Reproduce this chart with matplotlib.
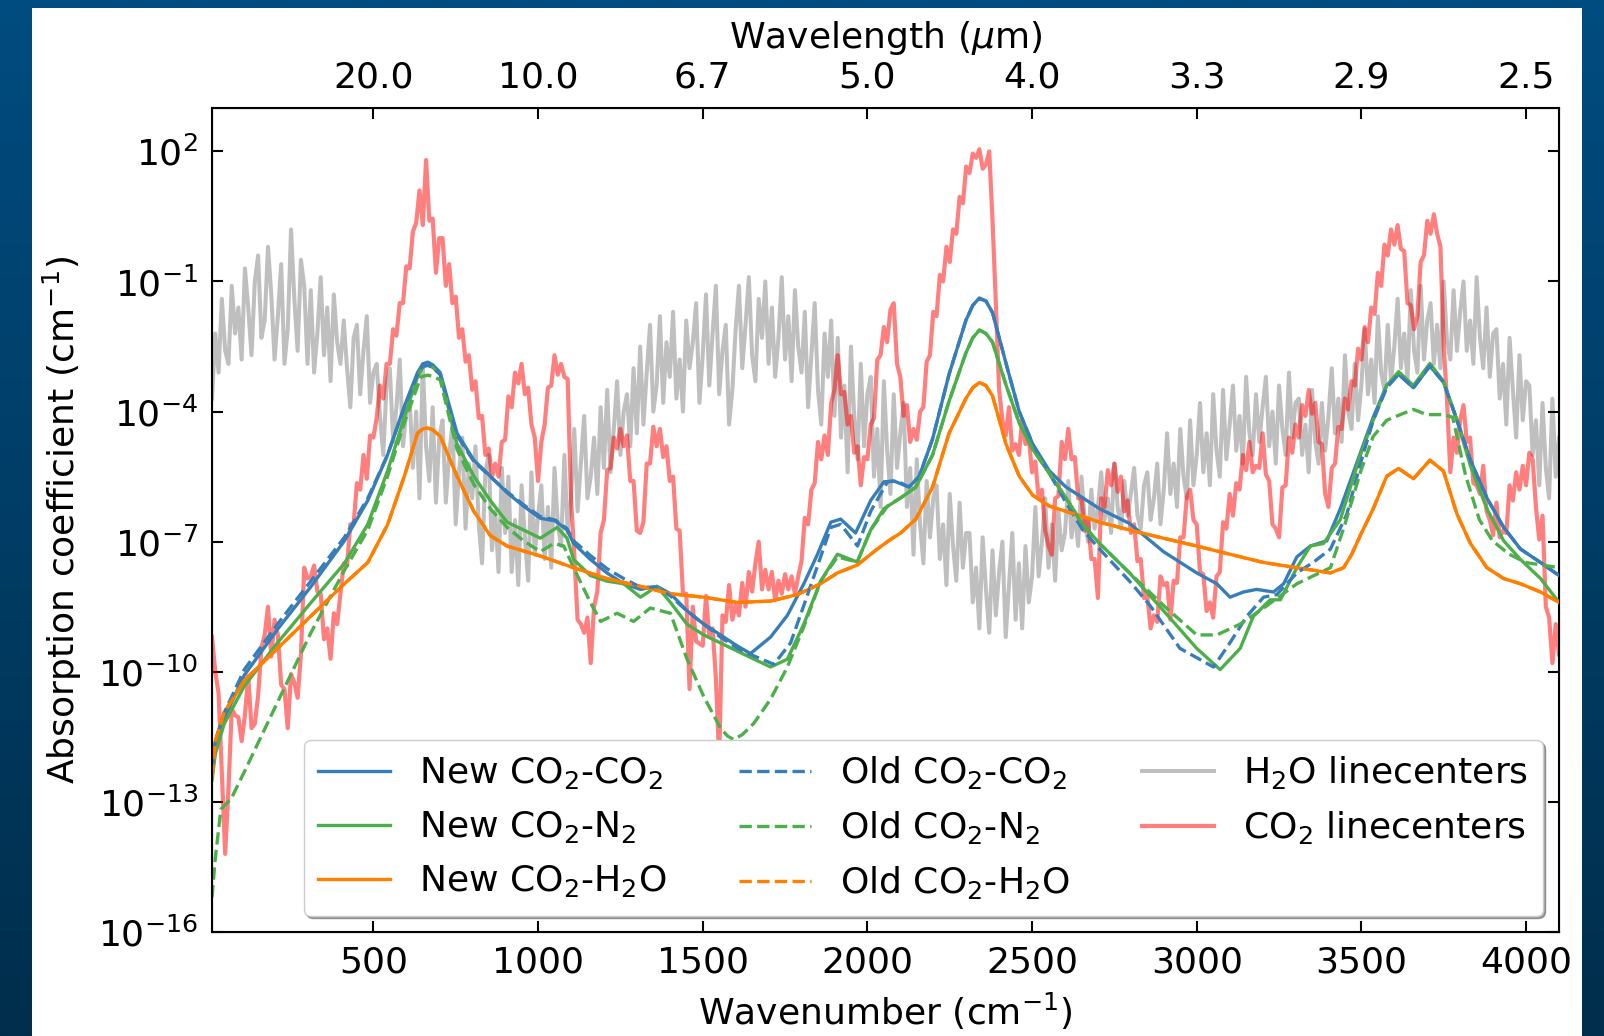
import numpy as np
import matplotlib
matplotlib.use("Agg")
import matplotlib.pyplot as plt
from matplotlib.patches import Rectangle
from matplotlib.ticker import NullLocator

# ---------------- data (log10 of absorption coefficient in cm^-1) ----------------
new_cc_x = [10, 20, 47, 108, 209, 311, 412, 483, 543, 594, 634, 650, 665, 680, 703, 754, 805, 855, 906, 956,
            1007, 1052, 1088, 1108, 1159, 1209, 1260, 1311, 1361, 1402, 1452, 1503, 1554, 1604, 1645, 1706,
            1757, 1807, 1848, 1889, 1919, 1964, 2010, 2050, 2080, 2126, 2157, 2198, 2248, 2299, 2320, 2340,
            2360, 2380, 2421, 2461, 2502, 2553, 2603, 2654, 2705, 2796, 2899, 3000, 3061, 3101, 3142, 3182,
            3233, 3264, 3304, 3345, 3395, 3436, 3497, 3536, 3577, 3613, 3658, 3708, 3749, 3790, 3831, 3881,
            3932, 3983, 4044, 4100]
new_cc_log = [-12.4, -11.8, -11.07, -10.08, -9.02, -8.03, -6.98, -6.05, -5.0, -3.88, -3.1, -2.9, -2.86, -2.92,
              -3.1, -4.5, -5.12, -5.49, -5.87, -6.18, -6.46, -6.52, -6.73, -7.04, -7.41, -7.72, -7.97, -8.1,
              -8.03, -8.2, -8.59, -8.9, -9.15, -9.4, -9.58, -9.2, -8.7, -7.97, -7.3, -6.55, -6.48, -6.8, -6.05,
              -5.62, -5.6, -5.74, -5.5, -4.63, -3.14, -1.9, -1.55, -1.38, -1.45, -1.72, -2.89, -4.0, -4.75,
              -5.37, -5.74, -5.99, -6.24, -6.58, -7.23, -7.72, -7.97, -8.28, -8.16, -8.1, -8.16, -7.97, -7.35,
              -7.1, -6.98, -6.24, -4.95, -4.13, -3.39, -3.14, -3.45, -2.95, -3.32, -4.19, -5.12, -5.99, -6.67,
              -7.17, -7.48, -7.78]

old_cc_x = [10, 20, 47, 108, 209, 311, 412, 483, 543, 594, 634, 650, 665, 680, 703, 754, 805, 855, 906, 956,
            1007, 1052, 1088, 1108, 1159, 1209, 1260, 1311, 1361, 1402, 1452, 1503, 1554, 1604, 1645, 1716,
            1767, 1807, 1848, 1889, 1919, 1970, 2010, 2061, 2090, 2126, 2157, 2198, 2248, 2299, 2320, 2340,
            2360, 2380, 2421, 2461, 2502, 2553, 2603, 2654, 2705, 2796, 2858, 2949, 3051, 3101, 3152, 3203,
            3243, 3304, 3355, 3406, 3456, 3497, 3536, 3577, 3613, 3658, 3708, 3749, 3790, 3831, 3881, 3932,
            3983, 4044, 4100]
old_cc_log = [-12.3, -11.6, -10.95, -9.95, -8.9, -7.9, -6.9, -6.0, -5.0, -3.9, -3.15, -2.95, -2.93, -2.98,
              -3.15, -4.55, -5.15, -5.5, -5.85, -6.15, -6.42, -6.5, -6.7, -6.98, -7.32, -7.62, -7.85, -8.05,
              -8.05, -8.25, -8.6, -8.9, -9.2, -9.45, -9.6, -9.83, -9.33, -8.47, -7.57, -6.67, -6.6, -7.1, -6.3,
              -5.62, -5.6, -5.74, -5.5, -4.63, -3.14, -1.9, -1.55, -1.4, -1.45, -1.72, -2.89, -4.0, -4.75,
              -5.43, -6.1, -6.73, -7.17, -7.91, -8.47, -9.46, -9.89, -9.33, -8.72, -8.28, -8.22, -7.72, -7.47,
              -7.17, -6.36, -5.2, -4.2, -3.45, -3.14, -3.45, -2.95, -3.32, -4.19, -5.12, -5.99, -6.67, -7.17,
              -7.48, -7.78]

new_cn_x = [10, 20, 47, 108, 209, 311, 412, 483, 543, 594, 634, 650, 665, 680, 703, 754, 805, 855, 906, 956,
            1007, 1058, 1088, 1108, 1159, 1209, 1260, 1311, 1361, 1402, 1452, 1503, 1604, 1706, 1757, 1807,
            1858, 1909, 1969, 2010, 2050, 2101, 2147, 2198, 2248, 2299, 2320, 2340, 2360, 2380, 2421, 2461,
            2502, 2553, 2603, 2654, 2705, 2796, 2899, 3000, 3071, 3132, 3172, 3223, 3254, 3304, 3345, 3385,
            3436, 3497, 3536, 3577, 3613, 3658, 3708, 3749, 3790, 3831, 3881, 3932, 3983, 4044, 4100]
new_cn_log = [-12.5, -11.9, -11.2, -10.33, -9.33, -8.4, -7.5, -6.6, -5.37, -4.13, -3.2, -2.98, -2.93, -2.98,
              -3.14, -4.75, -5.49, -6.05, -6.55, -6.73, -6.92, -6.67, -6.92, -7.41, -7.78, -7.91, -7.97, -8.28,
              -8.03, -8.4, -8.9, -9.15, -9.52, -9.89, -9.71, -8.9, -7.91, -7.29, -7.47, -6.73, -6.24, -5.99,
              -5.74, -5.0, -3.76, -2.65, -2.3, -2.12, -2.2, -2.4, -3.39, -4.26, -4.87, -5.43, -5.99, -6.61,
              -7.04, -7.72, -8.59, -9.46, -9.95, -9.46, -8.72, -8.34, -8.34, -7.6, -7.1, -7.04, -6.49, -5.0,
              -4.2, -3.4, -3.08, -3.4, -2.89, -3.3, -4.19, -5.25, -6.24, -6.98, -7.41, -7.85, -8.4]

old_cn_x = [10, 20, 37, 68, 108, 209, 311, 412, 483, 543, 594, 644, 665, 685, 703, 754, 805, 855, 906, 956,
            1007, 1048, 1078, 1108, 1159, 1190, 1240, 1290, 1341, 1402, 1452, 1503, 1554, 1575, 1594, 1620,
            1655, 1706, 1757, 1807, 1858, 1909, 1969, 2010, 2061, 2101, 2147, 2198, 2248, 2299, 2320, 2340,
            2360, 2380, 2421, 2461, 2502, 2553, 2603, 2654, 2705, 2796, 2899, 3000, 3061, 3132, 3203, 3304,
            3406, 3450, 3497, 3536, 3577, 3618, 3658, 3698, 3749, 3777, 3817, 3858, 3898, 3949, 3999, 4100]
old_cn_log = [-15.2, -14.3, -13.17, -12.93, -12.31, -10.7, -9.09, -7.66, -6.73, -5.49, -4.26, -3.2, -3.16,
              -3.2, -3.27, -4.87, -5.68, -6.24, -6.67, -6.98, -7.23, -7.04, -7.1, -7.6, -8.4, -8.84, -8.65,
              -8.84, -8.53, -8.65, -9.7, -10.57, -11.3, -11.48, -11.56, -11.45, -11.19, -10.63, -9.89, -8.96,
              -7.91, -7.35, -7.47, -6.73, -6.18, -5.99, -5.74, -5.0, -3.76, -2.65, -2.3, -2.12, -2.2, -2.4,
              -3.39, -4.26, -4.87, -5.43, -5.99, -6.61, -7.04, -7.72, -8.47, -9.15, -9.15, -8.9, -8.53, -7.97,
              -7.6, -6.6, -5.4, -4.57, -4.2, -4.07, -3.95, -4.07, -4.07, -4.13, -5.49, -6.49, -6.98, -7.29,
              -7.48, -7.6]

new_ch_x = [10, 20, 47, 108, 209, 311, 412, 483, 543, 594, 634, 650, 665, 680, 703, 754, 805, 855, 906, 1007,
            1108, 1209, 1311, 1402, 1503, 1604, 1706, 1787, 1858, 1909, 1969, 2030, 2070, 2101, 2147, 2198,
            2248, 2299, 2320, 2340, 2360, 2380, 2421, 2461, 2502, 2553, 2603, 2654, 2705, 2796, 2899, 3000,
            3101, 3203, 3304, 3406, 3446, 3470, 3497, 3536, 3577, 3613, 3658, 3708, 3749, 3790, 3831, 3881,
            3932, 3983, 4044, 4100]
new_ch_log = [-12.4, -11.6, -10.94, -10.2, -9.46, -8.71, -7.97, -7.48, -6.61, -5.49, -4.5, -4.4, -4.38, -4.42,
              -4.57, -5.49, -6.3, -6.86, -7.1, -7.33, -7.6, -7.85, -8.03, -8.2, -8.28, -8.4, -8.37, -8.22,
              -7.97, -7.72, -7.54, -7.17, -6.95, -6.8, -6.48, -5.74, -4.5, -3.7, -3.45, -3.33, -3.4, -3.64,
              -4.75, -5.49, -5.93, -6.18, -6.3, -6.42, -6.55, -6.73, -6.92, -7.1, -7.29, -7.48, -7.6, -7.72,
              -7.6, -7.3, -6.85, -6.24, -5.49, -5.31, -5.55, -5.12, -5.37, -6.36, -7.04, -7.6, -7.85, -7.97,
              -8.16, -8.4]

# old CO2-H2O lies on top of the new one in the picture
old_ch_x = list(new_ch_x)
old_ch_log = list(new_ch_log)

# line-center spectra sampled every 10 cm^-1 from 10 to 4100 cm^-1
lc_x = np.arange(10, 4101, 10)
h2o_log = [
    -3.7, -2.2, -3.1, -1.4, -2.6, -2.9, -1.1, -2.2, -1.6, -2.8,
    -0.7, -1.6, -2.7, -1.0, -0.4, -2.3, -1.9, -0.2, -1.3, -2.8,
    -1.8, -0.6, -2.9, -2.1, 0.2, -1.4, -2.6, -0.5, -1.1, -2.9,
    -1.2, -3.1, -2.2, -0.9, -2.7, -1.6, -3.3, -1.3, -2.4, -2.9,
    -1.9, -3.0, -3.9, -2.3, -2.0, -3.6, -2.6, -1.8, -3.8, -3.1,
    -2.9, -4.1, -5.0, -3.4, -3.0, -4.7, -3.9, -2.8, -4.8, -4.0,
    -3.7, -5.3, -4.0, -6.0, -2.9, -4.8, -5.6, -3.9, -6.1, -4.6,
    -4.2, -6.1, -5.0, -4.3, -6.6, -5.4, -4.6, -6.7, -5.2, -6.0,
    -4.8, -6.6, -7.5, -5.4, -5.0, -7.2, -6.3, -7.7, -5.3, -6.8,
    -5.5, -7.7, -6.5, -8.0, -5.7, -6.9, -7.9, -5.4, -7.3, -6.4,
    -5.7, -7.4, -6.2, -7.6, -5.3, -6.6, -7.1, -5.0, -6.8, -6.0,
    -4.4, -6.3, -5.2, -4.1, -6.0, -5.5, -4.6, -5.9, -3.9, -5.3,
    -3.5, -5.4, -4.4, -3.3, -5.0, -4.0, -3.6, -4.8, -3.0, -4.5,
    -2.5, -4.3, -3.1, -2.0, -4.0, -3.4, -1.8, -3.8, -2.4, -3.2,
    -1.7, -3.7, -2.8, -4.0, -1.9, -3.0, -2.4, -1.5, -3.8, -2.7,
    -1.3, -3.4, -2.2, -1.1, -3.6, -2.6, -2.0, -4.3, -3.5, -2.1,
    -1.1, -3.0, -2.0, -0.9, -2.7, -3.3, -1.4, -2.3, -1.0, -2.9,
    -1.6, -3.2, -2.3, -0.9, -2.8, -1.8, -3.3, -1.2, -2.5, -3.1,
    -1.7, -3.9, -2.7, -1.5, -3.5, -4.3, -2.2, -3.2, -1.9, -4.1,
    -2.3, -4.6, -3.4, -5.4, -2.5, -4.1, -5.1, -2.9, -4.8, -3.6,
    -3.2, -5.5, -4.4, -6.2, -3.3, -4.9, -5.9, -3.6, -5.3, -4.5,
    -3.8, -6.2, -5.3, -7.3, -5.1, -6.6, -7.5, -5.6, -6.9, -6.0,
    -5.7, -7.4, -6.6, -8.0, -5.9, -7.1, -7.9, -6.1, -7.6, -6.8,
    -6.8, -8.4, -7.6, -9.0, -6.9, -8.1, -9.1, -7.2, -8.7, -7.7,
    -7.0, -9.2, -8.0, -6.8, -8.8, -7.5, -9.0, -7.1, -8.4, -7.8,
    -6.2, -7.8, -7.0, -6.0, -7.6, -6.6, -7.9, -6.3, -7.2, -6.8,
    -5.6, -6.9, -6.3, -7.1, -5.5, -6.5, -7.0, -5.8, -6.7, -6.2,
    -5.4, -6.5, -6.0, -6.8, -5.2, -6.2, -6.7, -5.6, -6.4, -5.9,
    -5.3, -6.4, -6.7, -5.7, -5.4, -6.5, -6.0, -5.2, -6.6, -5.8,
    -4.5, -5.9, -5.2, -6.2, -4.4, -5.5, -6.0, -4.2, -5.7, -5.0,
    -3.8, -5.4, -4.5, -5.7, -3.6, -4.9, -5.5, -3.5, -5.1, -4.3,
    -3.4, -4.9, -4.1, -5.2, -3.2, -4.5, -5.0, -3.6, -4.7, -3.9,
    -3.2, -4.8, -4.0, -5.2, -3.4, -4.4, -5.0, -3.1, -4.6, -3.8,
    -3.7, -5.0, -4.3, -5.4, -3.5, -4.7, -5.2, -3.8, -4.9, -4.1,
    -3.0, -4.5, -3.7, -4.7, -2.7, -4.0, -4.4, -2.9, -4.2, -3.4,
    -2.1, -3.6, -2.8, -3.8, -1.8, -3.1, -3.5, -2.0, -3.3, -2.5,
    -1.4, -3.0, -2.2, -3.3, -1.2, -2.6, -3.1, -1.1, -2.8, -1.9,
    -1.5, -2.9, -2.0, -3.0, -1.0, -2.4, -2.8, -1.2, -2.6, -1.7,
    -1.0, -2.6, -1.9, -2.9, -0.9, -2.3, -3.0, -1.6, -3.2, -2.2,
    -2.1, -3.7, -2.9, -4.3, -2.3, -3.5, -4.6, -2.7, -4.2, -3.3,
    -3.4, -5.0, -4.2, -5.7, -3.8, -5.3, -6.0, -3.7, -5.5, -4.6,
]
co2_log = [
    -9.2, -10.0, -10.5, -12.35, -14.2, -12.7, -10.85, -11.0, -11.05, -11.6,
    -11.0, -10.1, -11.3, -11.2, -10.55, -9.45, -9.15, -8.5, -9.65, -8.8,
    -9.15, -10.3, -10.4, -11.3, -10.05, -10.25, -10.6, -9.6, -7.6, -7.85,
    -7.8, -7.55, -8.15, -8.2, -9.25, -9.0, -9.7, -8.65, -8.9, -8.2,
    -7.5, -7.55, -6.6, -6.6, -5.65, -5.8, -5.0, -5.55, -4.55, -4.6,
    -4.15, -3.4, -3.7, -2.9, -2.9, -2.1, -2.25, -1.5, -1.5, -0.65,
    -0.7, 0.15, 0.35, 1.1, 0.3, 1.8, 0.4, 0.45, -0.8, 0.0,
    0.0, -1.1, -0.6, -1.5, -1.35, -2.3, -2.1, -2.85, -2.7, -3.5,
    -3.3, -4.15, -4.1, -5.0, -4.85, -5.5, -5.2, -5.5, -4.7, -4.65,
    -3.65, -3.9, -3.1, -3.35, -2.9, -3.6, -3.45, -4.3, -4.6, -5.6,
    -4.7, -4.3, -3.45, -3.4, -2.7, -3.15, -2.9, -3.2, -3.25, -6.0,
    -7.3, -8.8, -8.9, -9.1, -8.75, -9.8, -8.5, -8.15, -6.8, -6.5,
    -5.35, -5.3, -4.6, -4.85, -4.4, -4.8, -4.55, -5.6, -5.6, -6.75,
    -6.8, -6.55, -5.2, -5.2, -4.35, -4.8, -4.4, -5.05, -4.8, -5.6,
    -5.5, -6.7, -6.75, -8.2, -8.2, -10.4, -8.5, -9.3, -9.35, -9.4,
    -8.25, -9.2, -9.0, -10.15, -12.0, -8.7, -8.85, -8.0, -8.8, -8.45,
    -8.7, -7.95, -8.5, -7.7, -8.15, -7.5, -7.0, -8.1, -7.65, -8.1,
    -7.7, -8.35, -7.9, -8.2, -7.75, -8.1, -7.8, -8.2, -7.8, -7.45,
    -6.45, -6.6, -5.8, -5.65, -4.7, -5.1, -4.55, -5.0, -3.8, -3.5,
    -2.7, -3.6, -3.55, -4.3, -4.1, -4.95, -4.8, -5.7, -5.05, -5.1,
    -4.3, -4.15, -2.8, -2.7, -2.05, -2.4, -1.65, -1.5, -2.9, -3.2,
    -4.1, -3.85, -4.7, -4.4, -4.65, -4.0, -3.9, -2.85, -2.7, -1.7,
    -1.8, -0.85, -1.0, -0.2, -0.55, 0.2, 0.1, 0.95, 0.8, 1.65,
    1.5, 1.95, 1.85, 2.05, 1.6, 1.7, 2.0, 0.4, -1.5, -3.5,
    -4.2, -4.55, -3.9, -4.9, -4.75, -5.0, -4.2, -4.75, -4.6, -5.4,
    -5.15, -6.0, -5.8, -6.75, -7.1, -7.3, -6.0, -5.95, -4.7, -5.1,
    -4.4, -5.1, -5.05, -6.0, -6.0, -6.75, -6.5, -7.4, -7.4, -8.3,
    -6.0, -6.2, -5.35, -5.7, -5.2, -5.85, -5.5, -6.3, -6.05, -6.8,
    -6.6, -7.45, -7.4, -8.3, -8.25, -9.0, -8.7, -8.85, -7.8, -8.0,
    -7.95, -8.8, -7.9, -7.95, -6.9, -6.9, -5.95, -5.8, -6.5, -6.6,
    -7.7, -7.75, -8.6, -8.4, -8.75, -7.8, -7.7, -6.55, -6.7, -5.9,
    -6.4, -5.65, -5.8, -5.0, -5.35, -4.7, -5.4, -5.25, -5.3, -4.5,
    -5.45, -5.6, -6.6, -6.7, -6.9, -5.75, -5.7, -4.6, -4.95, -4.3,
    -4.6, -3.85, -4.1, -3.5, -4.05, -3.8, -4.7, -4.75, -5.9, -6.2,
    -5.3, -5.2, -4.35, -4.4, -3.7, -3.95, -3.3, -3.4, -2.55, -2.8,
    -2.05, -2.4, -1.6, -1.75, -0.8, -1.1, -0.15, -0.4, 0.2, -0.15,
    0.3, -0.25, -0.3, -1.5, -1.55, -2.1, -1.8, -0.55, -0.4, 0.4,
    0.1, 0.55, 0.1, -0.2, -2.5, -3.75, -5.4, -4.6, -4.95, -4.2,
    -3.85, -4.7, -4.6, -5.65, -5.7, -5.9, -5.25, -6.3, -6.5, -6.85,
    -6.1, -6.9, -6.75, -6.8, -5.7, -6.05, -5.4, -5.8, -5.25, -5.7,
    -4.95, -5.1, -6.2, -6.95, -6.4, -8.5, -8.75, -9.8, -8.9, -9.6,
]

xticks_bottom = [500, 1000, 1500, 2000, 2500, 3000, 3500, 4000]
wavelength_labels = ["20.0", "10.0", "6.7", "5.0", "4.0", "3.3", "2.9", "2.5"]
yticks = [1e-16, 1e-13, 1e-10, 1e-7, 1e-4, 1e-1, 1e2]

# ---------------- styling ----------------
FS = 26
plt.rcParams["font.family"] = ["DejaVu Sans"]
plt.rcParams["mathtext.fontset"] = "dejavusans"
C_BLUE, C_GREEN, C_ORANGE = "#377eb8", "#4daf4a", "#ff7f00"
LW = 2.4

W, H = 1604, 1036
fig = plt.figure(figsize=(W / 100, H / 100), dpi=100)

# blue gradient frame with white panel
bg = fig.add_axes([0, 0, 1, 1], zorder=-10)
t = np.linspace(0, 1, 256)[:, None, None]
top_c = np.array([0, 76, 128]) / 255.0
bot_c = np.array([0, 46, 76]) / 255.0
img = top_c[None, None, :] * (1 - t) + bot_c[None, None, :] * t
bg.imshow(img, extent=[0, W, H, 0], aspect="auto", interpolation="bilinear")
bg.add_patch(Rectangle((32, 8), 1550, H - 8, facecolor="white", edgecolor="none"))
bg.set_xlim(0, W)
bg.set_ylim(H, 0)
bg.axis("off")

ax = fig.add_axes([212 / W, 104 / H, 1347 / W, 824 / H])


def L(v):
    return 10.0 ** np.asarray(v, dtype=float)


h_nc, = ax.plot(new_cc_x, L(new_cc_log), color=C_BLUE, lw=LW, zorder=3, label="New CO$_2$-CO$_2$")
h_nn, = ax.plot(new_cn_x, L(new_cn_log), color=C_GREEN, lw=LW, zorder=3, label="New CO$_2$-N$_2$")
h_nh, = ax.plot(new_ch_x, L(new_ch_log), color=C_ORANGE, lw=LW, zorder=3, label="New CO$_2$-H$_2$O")
h_oc, = ax.plot(old_cc_x, L(old_cc_log), color=C_BLUE, lw=LW, ls="--", zorder=4, label="Old CO$_2$-CO$_2$")
h_on, = ax.plot(old_cn_x, L(old_cn_log), color=C_GREEN, lw=LW, ls="--", zorder=4, label="Old CO$_2$-N$_2$")
h_oh, = ax.plot(old_ch_x, L(old_ch_log), color=C_ORANGE, lw=LW, ls="--", zorder=4, label="Old CO$_2$-H$_2$O")
h_w, = ax.plot(lc_x, L(h2o_log), color="gray", alpha=0.5, lw=2.9, zorder=1, label="H$_2$O linecenters")
h_c, = ax.plot(lc_x, L(co2_log), color="red", alpha=0.5, lw=3.0, zorder=2, label="CO$_2$ linecenters")

ax.set_yscale("log")
ax.set_xlim(10, 4100)
ax.set_ylim(1e-16, 1e3)
ax.set_yticks(yticks)
ax.yaxis.set_minor_locator(NullLocator())
ax.set_xticks(xticks_bottom)
ax.tick_params(axis="both", which="major", direction="in", length=8, width=1.5,
               labelsize=FS, pad=10, right=True, top=False)
for s in ax.spines.values():
    s.set_linewidth(1.5)
ax.set_xlabel("Wavenumber (cm$^{-1}$)", fontsize=FS, labelpad=8)
ax.set_ylabel("Absorption coefficient (cm$^{-1}$)", fontsize=FS, labelpad=10)

ax2 = ax.twiny()
ax2.set_xlim(ax.get_xlim())
ax2.set_xticks(xticks_bottom)
ax2.set_xticklabels(wavelength_labels)
ax2.tick_params(axis="x", which="major", direction="in", length=8, width=1.5, labelsize=FS, pad=10)
ax2.set_xlabel("Wavelength ($\\mu$m)", fontsize=FS, labelpad=9)

handles = [h_nc, h_nn, h_nh, h_oc, h_on, h_oh, h_w, h_c]
leg = ax.legend(handles=handles, ncol=3, loc="lower right", fontsize=FS, shadow=True,
                fancybox=True, handlelength=2.0, framealpha=1.0, edgecolor="0.8",
                borderaxespad=0.45)

fig.savefig("out.png", dpi=100)
